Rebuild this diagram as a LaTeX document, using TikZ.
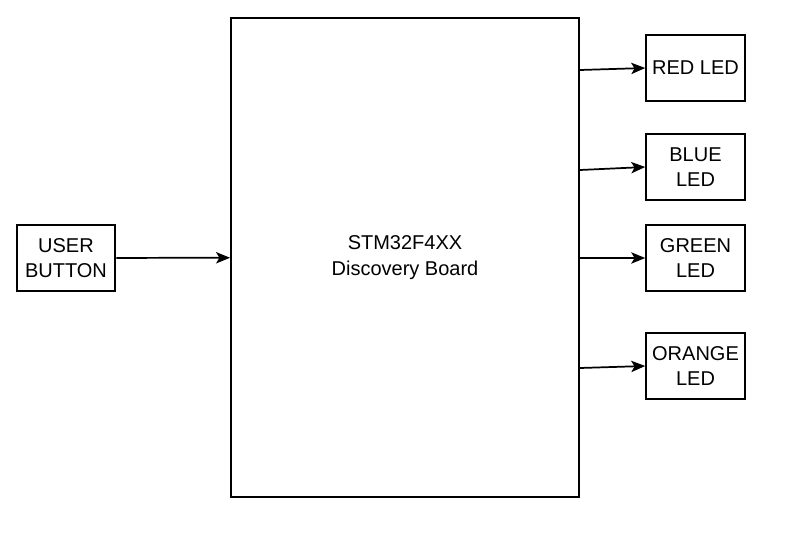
\documentclass[tikz,border=0pt]{standalone}
\usepackage{fontspec}
\setmainfont{Liberation Sans}
\usetikzlibrary{shapes.geometric, arrows.meta}
\tikzstyle{board} = [rectangle, minimum width=261pt, minimum height=359pt, text centered, draw=black, line width=1.4pt, align=center]
\tikzstyle{led} = [rectangle, minimum width=74pt, minimum height=49.5pt, text centered, draw=black, line width=1.4pt, align=center]
\tikzstyle{arrow} = [line width=1.3pt, -{Stealth[length=10.5pt, width=8.5pt, inset=2.5pt]}]

\begin{document}
\begin{tikzpicture}[x=0.75pt, y=-0.75pt, font=\fontsize{15}{19}\selectfont]
				\useasboundingbox (0,0) rectangle (793,543);
				\node (board) [board] at (405,257.5) {STM32F4XX \\ Discovery Board};
				\node (button) [led] at (66,258) {USER \\ BUTTON};	% input
				\node (red) [led] at (695.5,68) {RED LED};
				\node (blue) [led] at (695.5,167) {BLUE \\ LED};
				\node (green) [led] at (695.5,258) {GREEN \\ LED};
				\node (orange) [led] at (695.5,366) {ORANGE \\ LED};

				\draw [arrow] (button) -- (board);
				\draw [arrow] (board.east |- 0,70) -- (red.west);
				\draw [arrow] (board.east |- 0,170) -- (blue.west);
				\draw [arrow] (board.east |- green.west) -- (green.west);
				\draw [arrow] (board.east |- 0,368) -- (orange.west);
		\end{tikzpicture}
\end{document}
